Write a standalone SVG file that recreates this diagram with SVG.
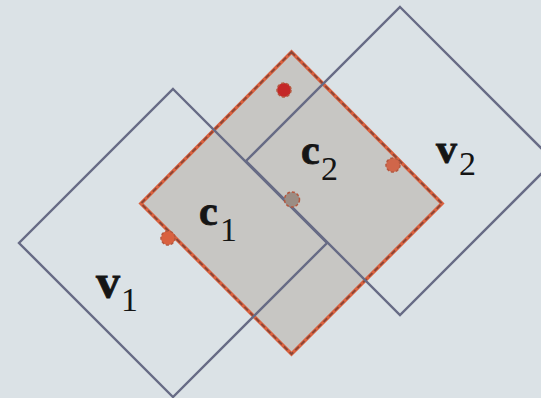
<svg xmlns="http://www.w3.org/2000/svg" width="541" height="398" viewBox="0 0 541 398">
<style>
.v{fill:none;stroke:#676b85;stroke-width:2.4;stroke-linejoin:miter}
.c{fill:#c7c6c3;stroke:#d9613f;stroke-width:3.6;stroke-linejoin:miter}
.cd{fill:none;stroke:#8c4636;stroke-width:1.8;stroke-dasharray:5 3}
.dot{stroke:#b5583f;stroke-width:1.5;stroke-dasharray:3 2}
</style>
<rect width="541" height="398" fill="#dbe2e6"/>
<g id="c_region">
<polygon class="c" points="291.5,52 442,203.5 291.5,354 141,203.5"/>
<polygon class="cd" points="291.5,52 442,203.5 291.5,354 141,203.5"/>
</g>
<g font-family="Liberation Serif, serif" fill="#151515">
<g id="v1">
<polygon class="v" points="173,89 327,243 173,397 19,243"/>
<text x="96" y="298" font-size="48" font-weight="bold" stroke="#151515" stroke-width="0.8">v</text><text x="121" y="311" font-size="34">1</text>
</g>
<g id="v2">
<polygon class="v" points="400,7 554,161 400,315 246,161"/>
<text x="436" y="163" font-size="42" font-weight="bold" stroke="#151515" stroke-width="0.8">v</text><text x="459" y="175" font-size="34">2</text>
</g>
<g id="c1">
<text x="199" y="225" font-size="42" font-weight="bold" stroke="#151515" stroke-width="0.8">c</text><text x="220" y="241" font-size="34">1</text>
</g>
<g id="c2">
<text x="301" y="164" font-size="42" font-weight="bold" stroke="#151515" stroke-width="0.8">c</text><text x="321" y="180" font-size="34">2</text>
</g>
</g>
<g id="points">
<circle class="dot" cx="284" cy="90" r="7" fill="#c42727"/>
<circle class="dot" cx="393" cy="165" r="7" fill="#d0664a"/>
<circle class="dot" cx="292" cy="199.5" r="7.5" fill="#9b8d84"/>
<circle class="dot" cx="168" cy="238" r="7" fill="#d9613f"/>
</g>
</svg>
